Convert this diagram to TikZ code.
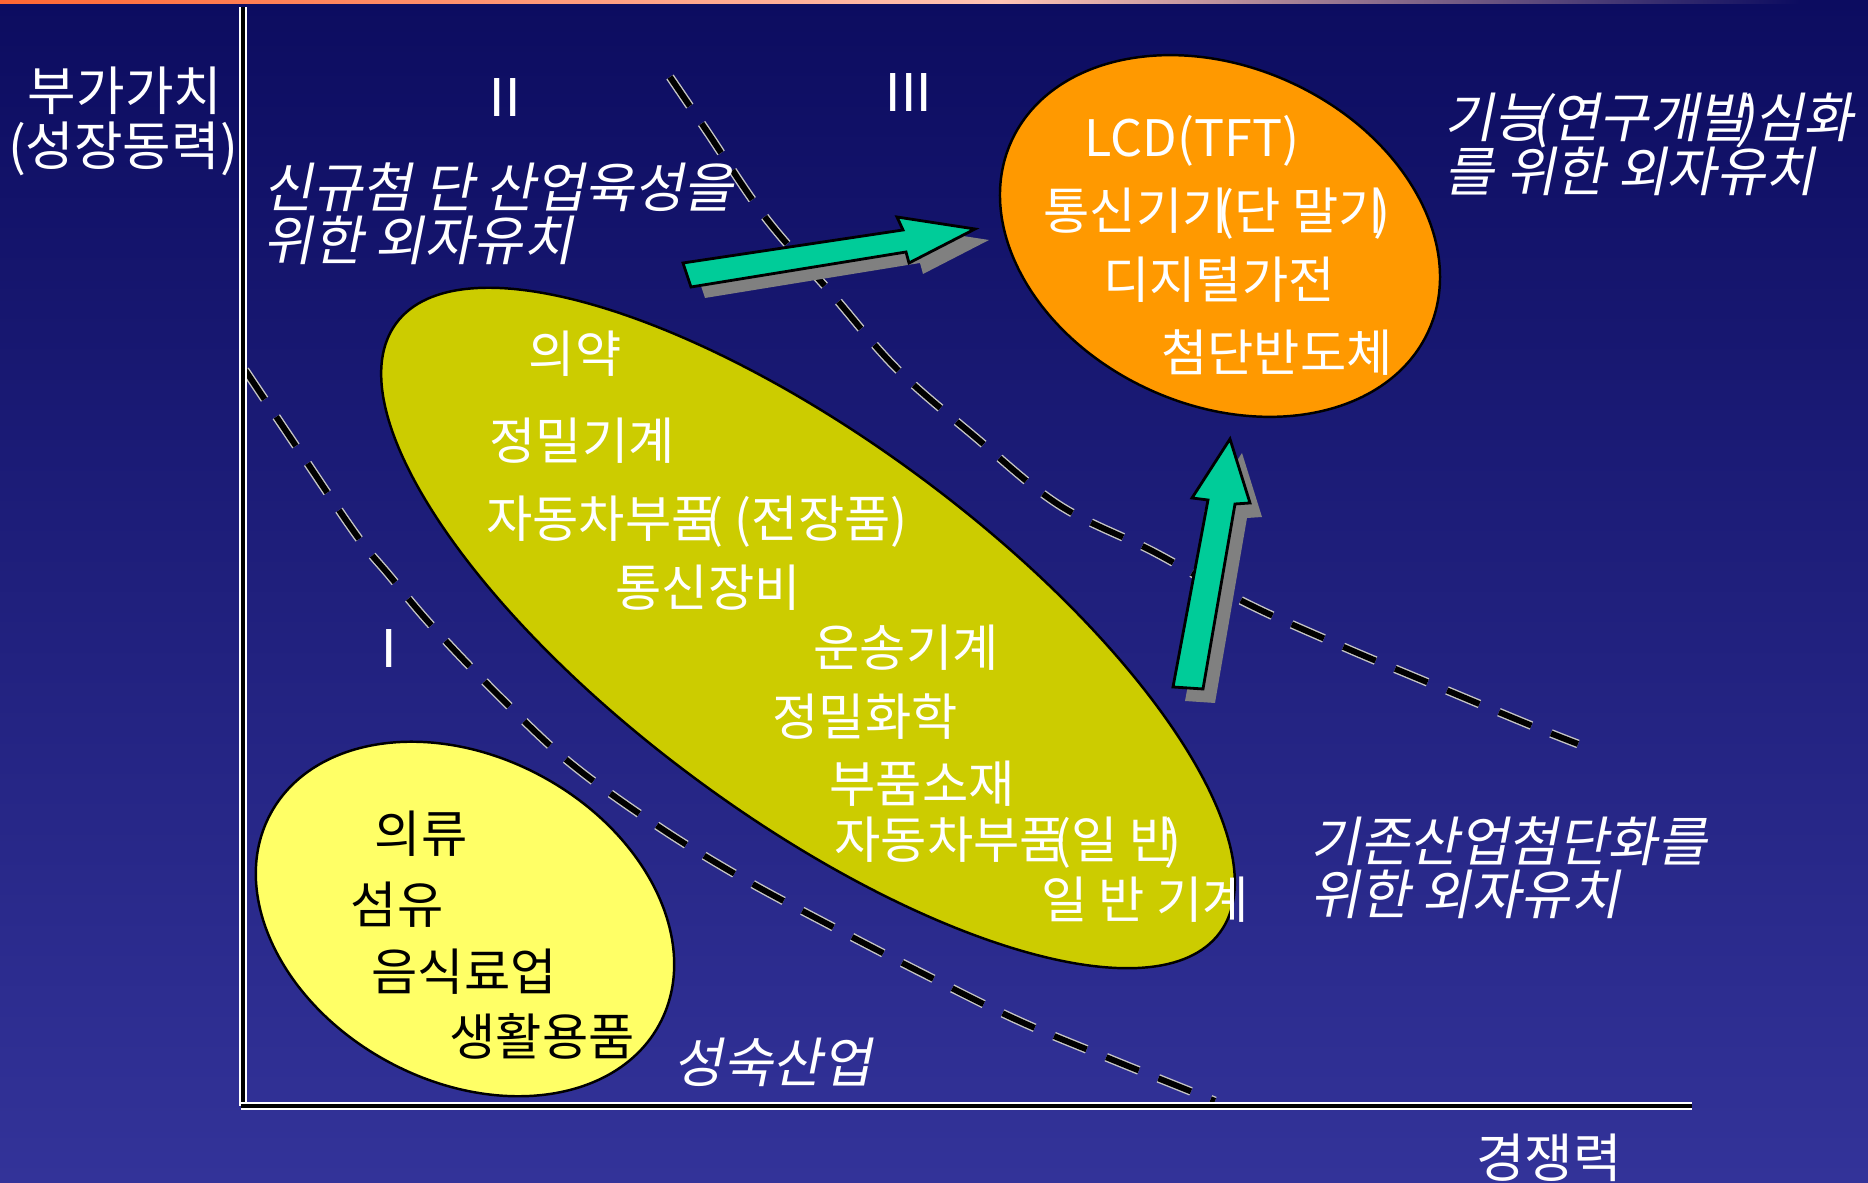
\documentclass[tikz,border=0pt]{standalone}
\usepackage{fontspec}
\setmainfont{Noto Sans CJK KR}
\newfontfamily\krfont{Noto Sans CJK KR}
\newfontfamily\krit[FakeSlant=0.2]{Noto Sans CJK KR}
\newfontfamily\romfont{Liberation Sans}
\definecolor{bgtop}{HTML}{0C0C60}
\definecolor{bgbot}{HTML}{333399}
\definecolor{stripL}{HTML}{FF6633}
\definecolor{stripM}{HTML}{FFC4B4}
\definecolor{arrgreen}{HTML}{00CC99}
\definecolor{shadowgray}{HTML}{808080}
\definecolor{ygreen}{HTML}{CCCC00}
\definecolor{lyellow}{HTML}{FFFF66}
\definecolor{orangefill}{HTML}{FF9900}
\tikzset{
  dashline/.style={draw=gray!45!white, line width=0.4pt, double=black, double distance=1.7pt, dash pattern=on 10pt off 6pt},
  axisline/.style={draw=white, line width=0.4pt, double=black, double distance=1.2pt},
  blob/.style={draw=black, line width=0.7pt},
  blockarrow/.style={fill=arrgreen, draw=black, line width=0.8pt, line join=miter},
  arrshadow/.style={fill=shadowgray},
  wtext/.style={text=white, inner sep=0pt, anchor=base, font=\krfont\fontsize{14.3}{16}\selectfont},
  btext/.style={text=black, inner sep=0pt, anchor=base, font=\krfont\fontsize{14.3}{16}\selectfont},
  axtext/.style={text=white, inner sep=0pt, anchor=base, font=\krfont\fontsize{15}{17}\selectfont},
  itext/.style={text=white, inner sep=0pt, anchor=base west, font=\krit\fontsize{15.3}{17}\selectfont},
  romtext/.style={text=white, inner sep=0pt, anchor=base, font=\romfont\fontsize{15.7}{17}\selectfont}
}
\newcommand{\lp}{\kern-0.22em(}
\newcommand{\rp}{\kern-0.22em)}
\begin{document}
\begin{tikzpicture}[x=0.01cm, y=-0.01cm]
\useasboundingbox (0,0) rectangle (1868,1183);
% background
\shade[top color=bgtop, bottom color=bgbot] (0,0) rectangle (1868,1183);
\shade[left color=stripL, right color=stripM] (0,0) rectangle (1000,4);
\shade[left color=stripM, right color=bgtop] (1000,0) rectangle (1800,4);
% dashed boundaries
\draw[dashline] plot[smooth, tension=0.6] coordinates {(245,370) (300,452) (357,536) (389,575) (432,626) (498,695) (569,762) (656,825) (742,878) (833,927) (920,972) (1017,1020) (1113,1060) (1215,1101)};
\draw[dashline] plot[smooth, tension=0.6] coordinates {(670,77) (706,130) (765,217) (831,293) (897,369) (974,436) (1059,505) (1154,552) (1244,602) (1339,645) (1434,685) (1530,725) (1578,744)};
% ellipses
\draw[blob, fill=lyellow, rotate around={-28.5:(465,919)}] (465,919) ellipse [x radius=2.21cm, y radius=1.62cm];
\draw[blob, fill=ygreen, rotate around={-36.5:(808,628)}] (808,628) ellipse [x radius=5.12cm, y radius=1.88cm];
\draw[blob, fill=orangefill, rotate around={-24.5:(1220,236)}] (1220,236) ellipse [x radius=2.29cm, y radius=1.69cm];
% block arrows with shadows
\fill[arrshadow, shift={(14,11)}] (683,263) -- (903,230) -- (897,217) -- (975,229) -- (909,263) -- (906,252) -- (691,287) -- cycle;
\draw[blockarrow] (683,263) -- (903,230) -- (897,217) -- (975,229) -- (909,263) -- (906,252) -- (691,287) -- cycle;
\fill[arrshadow, shift={(12,14)}] (1173,687) -- (1208,500) -- (1192,498) -- (1230,439) -- (1250,503) -- (1235,504) -- (1203,689) -- cycle;
\draw[blockarrow] (1173,687) -- (1208,500) -- (1192,498) -- (1230,439) -- (1250,503) -- (1235,504) -- (1203,689) -- cycle;
% axes
\draw[axisline] (243,7) -- (243,1106);
\draw[axisline] (241,1106) -- (1692,1106);
% axis labels
\node[axtext] (yl1) at (125,111) {부가가치};
\node[axtext] (yl2) at (123,166) {(성장동력)};
\node[axtext] (xl) at (1549,1178) {경쟁력};
% region numerals
\node[romtext] (r2) at (505,117) {II};
\node[romtext] (r3) at (909,112) {III};
\node[romtext] (r1) at (389,668) {I};
% italic annotations
\node[itext] (n1a) at (263,208) {신규첨 단 산업육성을};
\node[itext] (n1b) at (263,261) {위한 외자유치};
\node[itext] (n2a) at (1444,138) {기능\lp 연구개발\rp 심화};
\node[itext] (n2b) at (1444,192) {를 위한 외자유치};
\node[itext] (n3a) at (1310,862) {기존산업첨단화를};
\node[itext] (n3b) at (1310,915) {위한 외자유치};
\node[itext] (n4) at (673,1083) {성숙산업};
% orange ellipse texts
\node[wtext] (o1) at (1192,157) {LCD(TFT)};
\node[wtext] (o2) at (1217,230) {통신기기\lp 단 말기\rp};
\node[wtext] (o3) at (1219,299) {디지털가전};
\node[wtext] (o4) at (1277,372) {첨단반도체};
% yellow-green ellipse texts
\node[wtext] (g1) at (575,373) {의약};
\node[wtext] (g2) at (582,460) {정밀기계};
\node[wtext] (g3) at (697,538) {자동차부품\lp\ (전장품)};
\node[wtext] (g4) at (708,607) {통신장비};
\node[wtext] (g5) at (906,667) {운송기계};
\node[wtext] (g6) at (865,736) {정밀화학};
\node[wtext] (g7) at (922,803) {부품소재};
\node[wtext] (g8) at (1008,859) {자동차부품\lp 일 반\rp};
\node[wtext] (g9) at (1145,919) {일 반 기계};
% light yellow ellipse texts
\node[btext] (y1) at (421,853) {의류};
\node[btext] (y2) at (397,924) {섬유};
\node[btext] (y3) at (464,991) {음식료업};
\node[btext] (y4) at (542,1056) {생활용품};
\end{tikzpicture}
\end{document}
